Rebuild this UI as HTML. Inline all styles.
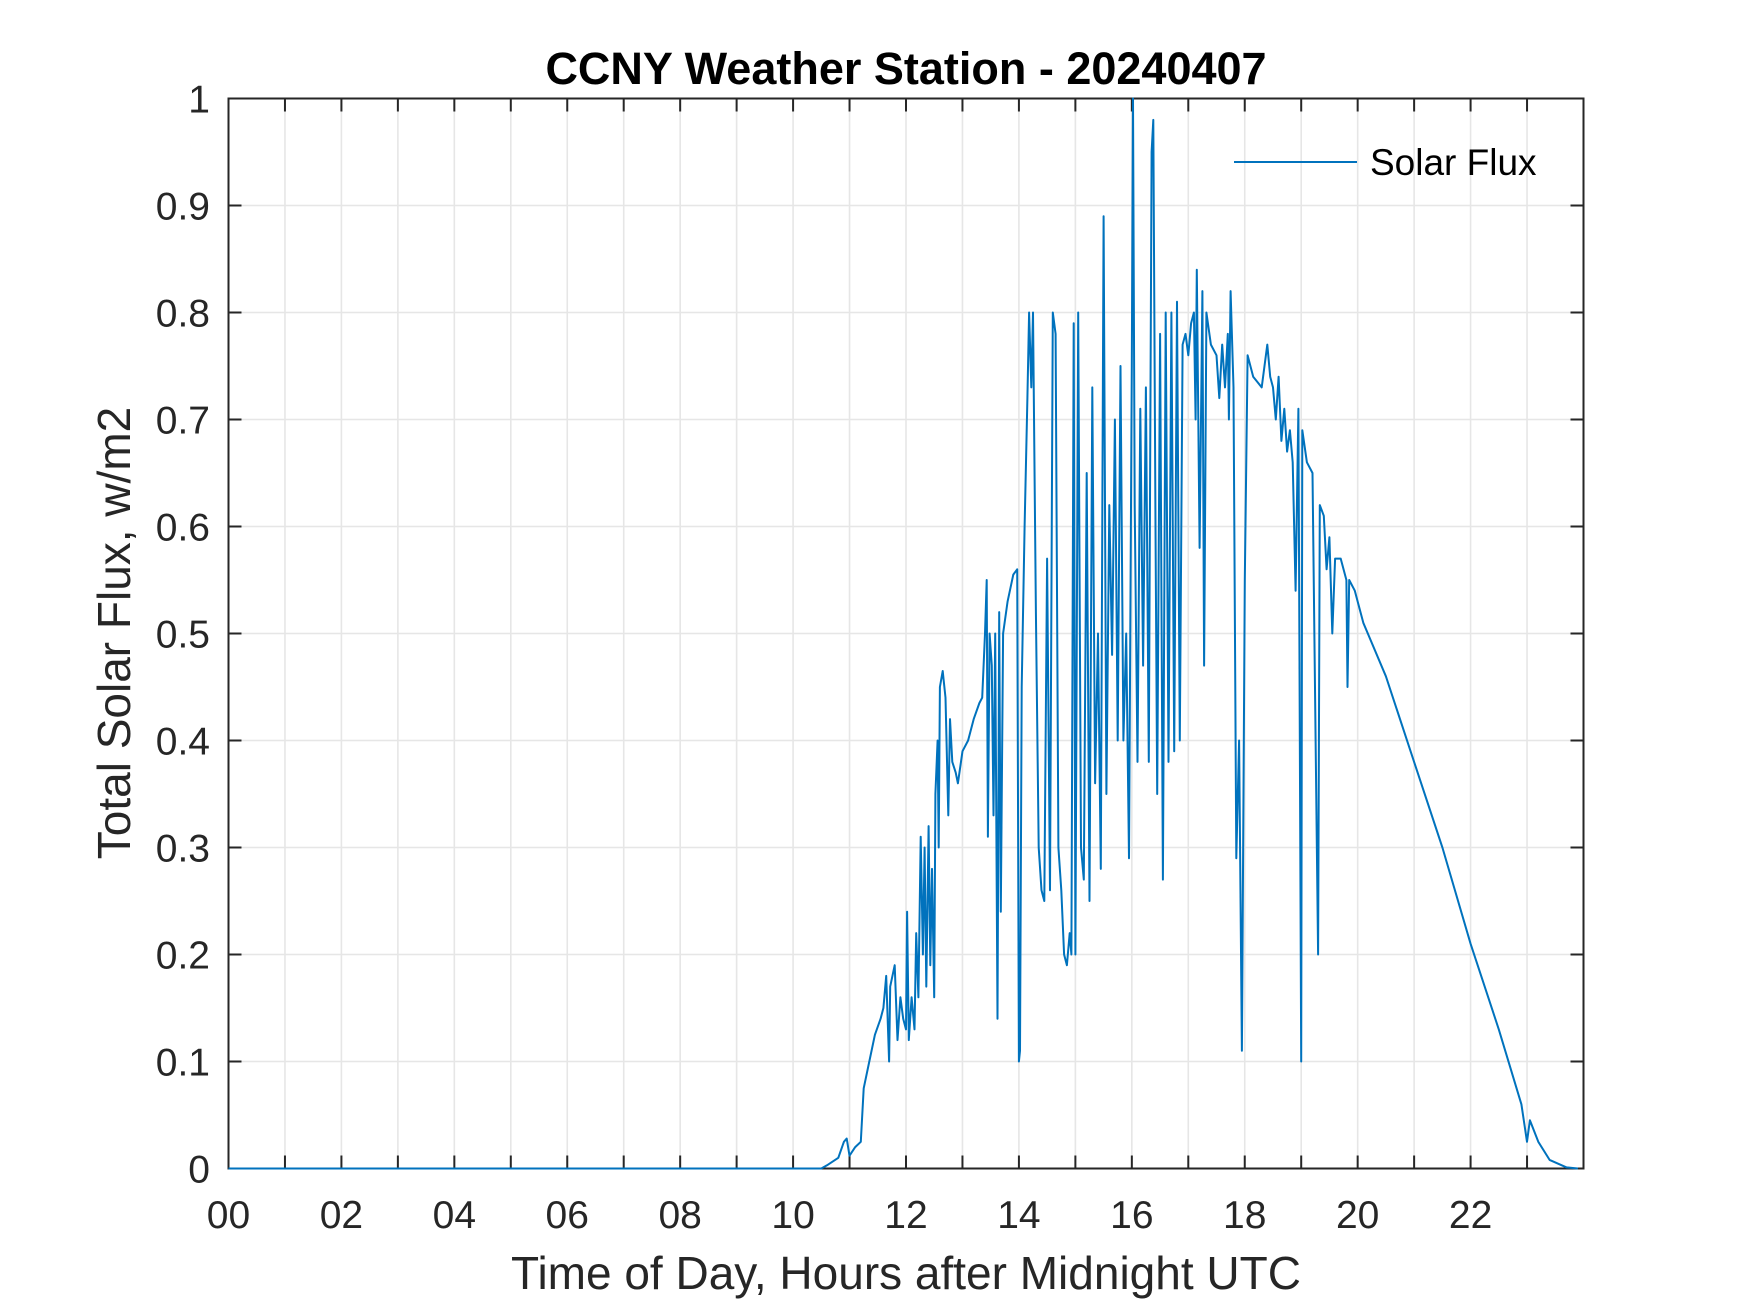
<!DOCTYPE html>
<html><head><meta charset="utf-8"><style>
html,body{margin:0;padding:0;background:#fff;}
svg{display:block;font-family:"Liberation Sans",Arial,sans-serif;}
</style></head><body>
<svg id="chart" width="1750" height="1313" viewBox="0 0 1750 1313" xmlns="http://www.w3.org/2000/svg">
<rect width="1750" height="1313" fill="#fff"/>
<g id="grid"></g>
<rect x="228.5" y="98.5" width="1355" height="1070" fill="none" stroke="#262626" stroke-width="2"/>
<g id="ticks"></g>
<g id="series"></g>
<text x="906" y="84" text-anchor="middle" font-size="45" font-weight="bold" fill="#000">CCNY Weather Station - 20240407</text>
<text x="906" y="1289" text-anchor="middle" font-size="46" fill="#262626">Time of Day, Hours after Midnight UTC</text>
<text transform="translate(130,633) rotate(-90)" text-anchor="middle" font-size="46" fill="#262626">Total Solar Flux, w/m2</text>
<g>
<line x1="1234" y1="162" x2="1357" y2="162" stroke="#0072BD" stroke-width="2"/>
<text x="1370" y="175" font-size="37" fill="#000">Solar Flux</text>
</g>
</svg>
<script>
const hours = [0,10.5,10.6,10.8,10.9,10.95,11.0,11.1,11.2,11.25,11.35,11.45,11.55,11.6,11.65,11.7,11.72,11.8,11.85,11.9,11.95,12.0,12.02,12.05,12.1,12.15,12.18,12.22,12.26,12.3,12.33,12.36,12.4,12.43,12.46,12.5,12.52,12.56,12.58,12.6,12.65,12.7,12.75,12.78,12.82,12.88,12.92,13.0,13.1,13.2,13.3,13.35,13.4,13.43,13.45,13.48,13.52,13.55,13.58,13.62,13.65,13.68,13.72,13.8,13.9,13.97,14.0,14.02,14.05,14.1,14.15,14.18,14.22,14.25,14.3,14.35,14.4,14.45,14.5,14.55,14.6,14.65,14.7,14.75,14.8,14.85,14.9,14.93,14.97,15.0,15.05,15.1,15.15,15.2,15.25,15.3,15.35,15.4,15.45,15.5,15.55,15.6,15.65,15.7,15.75,15.8,15.85,15.9,15.95,16.0,16.02,16.05,16.1,16.15,16.2,16.25,16.3,16.35,16.38,16.42,16.45,16.5,16.55,16.6,16.65,16.7,16.75,16.8,16.85,16.9,16.95,17.0,17.05,17.1,17.13,17.15,17.2,17.25,17.28,17.32,17.4,17.5,17.55,17.6,17.65,17.7,17.72,17.75,17.8,17.85,17.9,17.95,18.0,18.05,18.15,18.3,18.35,18.4,18.45,18.5,18.55,18.6,18.65,18.7,18.75,18.8,18.85,18.9,18.95,19.0,19.02,19.1,19.2,19.3,19.33,19.4,19.45,19.5,19.55,19.6,19.7,19.8,19.82,19.85,19.95,20.1,20.5,21.0,21.5,22.0,22.5,22.9,23.0,23.05,23.2,23.4,23.7,23.9];
const flux = [0,0,0.003,0.01,0.025,0.028,0.012,0.02,0.025,0.075,0.1,0.125,0.14,0.15,0.18,0.1,0.17,0.19,0.12,0.16,0.14,0.13,0.24,0.12,0.16,0.13,0.22,0.16,0.31,0.2,0.3,0.17,0.32,0.19,0.28,0.16,0.35,0.4,0.3,0.45,0.465,0.44,0.33,0.42,0.38,0.37,0.36,0.39,0.4,0.42,0.435,0.44,0.5,0.55,0.31,0.5,0.47,0.33,0.5,0.14,0.52,0.24,0.5,0.53,0.555,0.56,0.1,0.11,0.45,0.6,0.72,0.8,0.73,0.8,0.52,0.3,0.26,0.25,0.57,0.26,0.8,0.78,0.3,0.26,0.2,0.19,0.22,0.2,0.79,0.2,0.8,0.3,0.27,0.65,0.25,0.73,0.36,0.5,0.28,0.89,0.35,0.62,0.48,0.7,0.4,0.75,0.4,0.5,0.29,0.75,1.0,0.62,0.38,0.71,0.47,0.73,0.38,0.95,0.98,0.6,0.35,0.78,0.27,0.8,0.38,0.8,0.39,0.81,0.4,0.77,0.78,0.76,0.79,0.8,0.7,0.84,0.58,0.82,0.47,0.8,0.77,0.76,0.72,0.77,0.73,0.78,0.7,0.82,0.73,0.29,0.4,0.11,0.55,0.76,0.74,0.73,0.75,0.77,0.74,0.73,0.7,0.74,0.68,0.71,0.67,0.69,0.66,0.54,0.71,0.1,0.69,0.66,0.65,0.2,0.62,0.61,0.56,0.59,0.5,0.57,0.57,0.55,0.45,0.55,0.54,0.51,0.46,0.38,0.3,0.21,0.13,0.06,0.025,0.045,0.025,0.008,0.001,0];
const xTickLabels = ["00","02","04","06","08","10","12","14","16","18","20","22"];
const yTickLabels = ["0","0.1","0.2","0.3","0.4","0.5","0.6","0.7","0.8","0.9","1"];

const X0=228.5,X1=1583.5,Y0=1168.5,Y1=98.5;
function xs(h){return X0+(h/24)*(X1-X0);}
function ys(v){return Y0-(v/1)*(Y0-Y1);}
const NS="http://www.w3.org/2000/svg";
const grid=document.getElementById('grid'),ticks=document.getElementById('ticks'),series=document.getElementById('series');
function mk(tag,attrs,parent){const e=document.createElementNS(NS,tag);for(const k in attrs)e.setAttribute(k,attrs[k]);parent.appendChild(e);return e;}
for(let h=1;h<24;h++){
  const x=xs(h);
  const g=mk('line',{x1:x,y1:Y1,x2:x,y2:Y0,stroke:'#e6e6e6','stroke-width':1.6},grid);
  
  
  const t1=mk('line',{x1:x,y1:Y0,x2:x,y2:Y0-13,stroke:'#262626','stroke-width':2},ticks);
  
  
  const t2=mk('line',{x1:x,y1:Y1,x2:x,y2:Y1+13,stroke:'#262626','stroke-width':2},ticks);
  
  
}
xTickLabels.forEach((lab,i)=>{
  const t=mk('text',{x:xs(i*2),y:1228,'text-anchor':'middle','font-size':39,fill:'#262626'},ticks);
  t.textContent=lab;
  
  
});
yTickLabels.forEach((lab,i)=>{
  const v=i/10,y=ys(v);
  if(i>0&&i<10){
    const g=mk('line',{x1:X0,y1:y,x2:X1,y2:y,stroke:'#e6e6e6','stroke-width':1.6},grid);
    
    
    const t1=mk('line',{x1:X0,y1:y,x2:X0+13,y2:y,stroke:'#262626','stroke-width':2},ticks);
    
    
    const t2=mk('line',{x1:X1,y1:y,x2:X1-13,y2:y,stroke:'#262626','stroke-width':2},ticks);
    
    
  }
  const t=mk('text',{x:210,y:y+14,'text-anchor':'end','font-size':39,fill:'#262626'},ticks);
  t.textContent=lab;
  
  
});
const pts=hours.map((h,i)=>xs(h).toFixed(1)+','+ys(flux[i]).toFixed(1)).join(' ');
const line=mk('polyline',{points:pts,fill:'none',stroke:'#0072BD','stroke-width':2,'stroke-linejoin':'round'},series);


</script>
</body></html>
